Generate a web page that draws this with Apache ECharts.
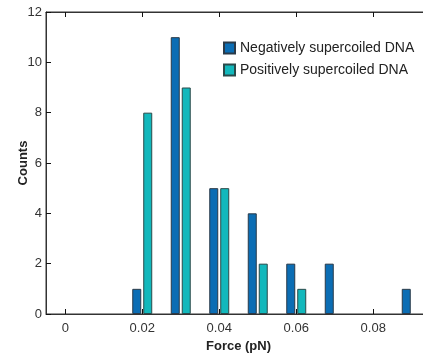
<!DOCTYPE html>
<html>
<head>
<meta charset="utf-8">
<script src="https://cdn.jsdelivr.net/npm/echarts@6/dist/echarts.min.js"></script>
<style>
  html, body { margin: 0; padding: 0; background: #fff; }
  #main { width: 423px; height: 356px; }
</style>
</head>
<body>
<div id="main"></div>
<script>
// force bins (pN) and counts per bin
const forceBins = [0.02, 0.03, 0.04, 0.05, 0.06, 0.07, 0.08, 0.09];
const negCounts = [1, 11, 5, 4, 2, 2, 0, 1];
const posCounts = [8, 9, 5, 2, 1, 0, 0, 0];
const xTicks = [0, 0.02, 0.04, 0.06, 0.08];

const negColor = "#0b6db4";
const posColor = "#12b8bc";
const font = "Liberation Sans";

const myChart = echarts.init(document.getElementById("main"));

// empty bins draw nothing
function pairs(vals) {
  return forceBins.map((f, i) => [f, vals[i] === 0 ? "-" : vals[i]]);
}

const option = {
  animation: false,
  textStyle: { fontFamily: font },
  grid: {
    left: 46, top: 12, height: 302, width: 385, outerBoundsMode: "none",
    show: true, borderColor: "#333", borderWidth: 1,
  },
  legend: {
    left: 218,
    top: 36,
    orient: "vertical",
    icon: "rect",
    itemWidth: 11,
    itemHeight: 11,
    itemGap: 8,
    textStyle: { fontSize: 14, color: "#222", fontFamily: font },
    data: ["Negatively supercoiled DNA", "Positively supercoiled DNA"],
  },
  xAxis: [
    {
      type: "value",
      min: -0.005,
      max: 0.095,
      interval: 0.02,
      name: "Force (pN)",
      nameLocation: "middle",
      nameGap: 26,
      nameMoveOverlap: false,
      nameTextStyle: { fontSize: 13, fontWeight: "bold", color: "#222", fontFamily: font },
      axisLine: { show: true, onZero: false, lineStyle: { color: "#333", width: 1 } },
      axisTick: { show: true, inside: true, length: 5, lineStyle: { color: "#111" }, customValues: xTicks },
      axisLabel: {
        fontSize: 13, color: "#333", margin: 8, customValues: xTicks,
        formatter: (v) => String(Math.round(v * 100) / 100),
      },
      splitLine: { show: false },
    },
    {
      type: "value",
      position: "top",
      min: -0.005,
      max: 0.095,
      interval: 0.02,
      axisLine: { show: true, onZero: false, lineStyle: { color: "#333", width: 1 } },
      axisTick: { show: true, inside: true, length: 5, lineStyle: { color: "#111" }, customValues: xTicks },
      axisLabel: { show: false },
      splitLine: { show: false },
    },
  ],
  yAxis: {
    type: "value",
    min: 0,
    max: 12,
    interval: 2,
    name: "Counts",
    nameLocation: "middle",
    nameGap: 16,
    nameMoveOverlap: false,
    nameRotate: 90,
    nameTextStyle: { fontSize: 13, fontWeight: "bold", color: "#222", fontFamily: font },
    axisLine: { show: true, onZero: false, lineStyle: { color: "#333", width: 1 } },
    axisTick: { show: true, inside: true, length: 5, lineStyle: { color: "#111" } },
    axisLabel: { fontSize: 13, color: "#333", margin: 4 },
    splitLine: { show: false },
  },
  series: [
    {
      name: "Negatively supercoiled DNA",
      type: "bar",
      barWidth: 9,
      barGap: "22%",
      data: pairs(negCounts),
      itemStyle: { color: negColor, borderColor: "#2a3a48", borderWidth: 1 },
    },
    {
      name: "Positively supercoiled DNA",
      type: "bar",
      barWidth: 9,
      barGap: "22%",
      data: pairs(posCounts),
      itemStyle: { color: posColor, borderColor: "#2a4a4a", borderWidth: 1 },
    },
  ],
};

myChart.setOption(option);
</script>
</body>
</html>
